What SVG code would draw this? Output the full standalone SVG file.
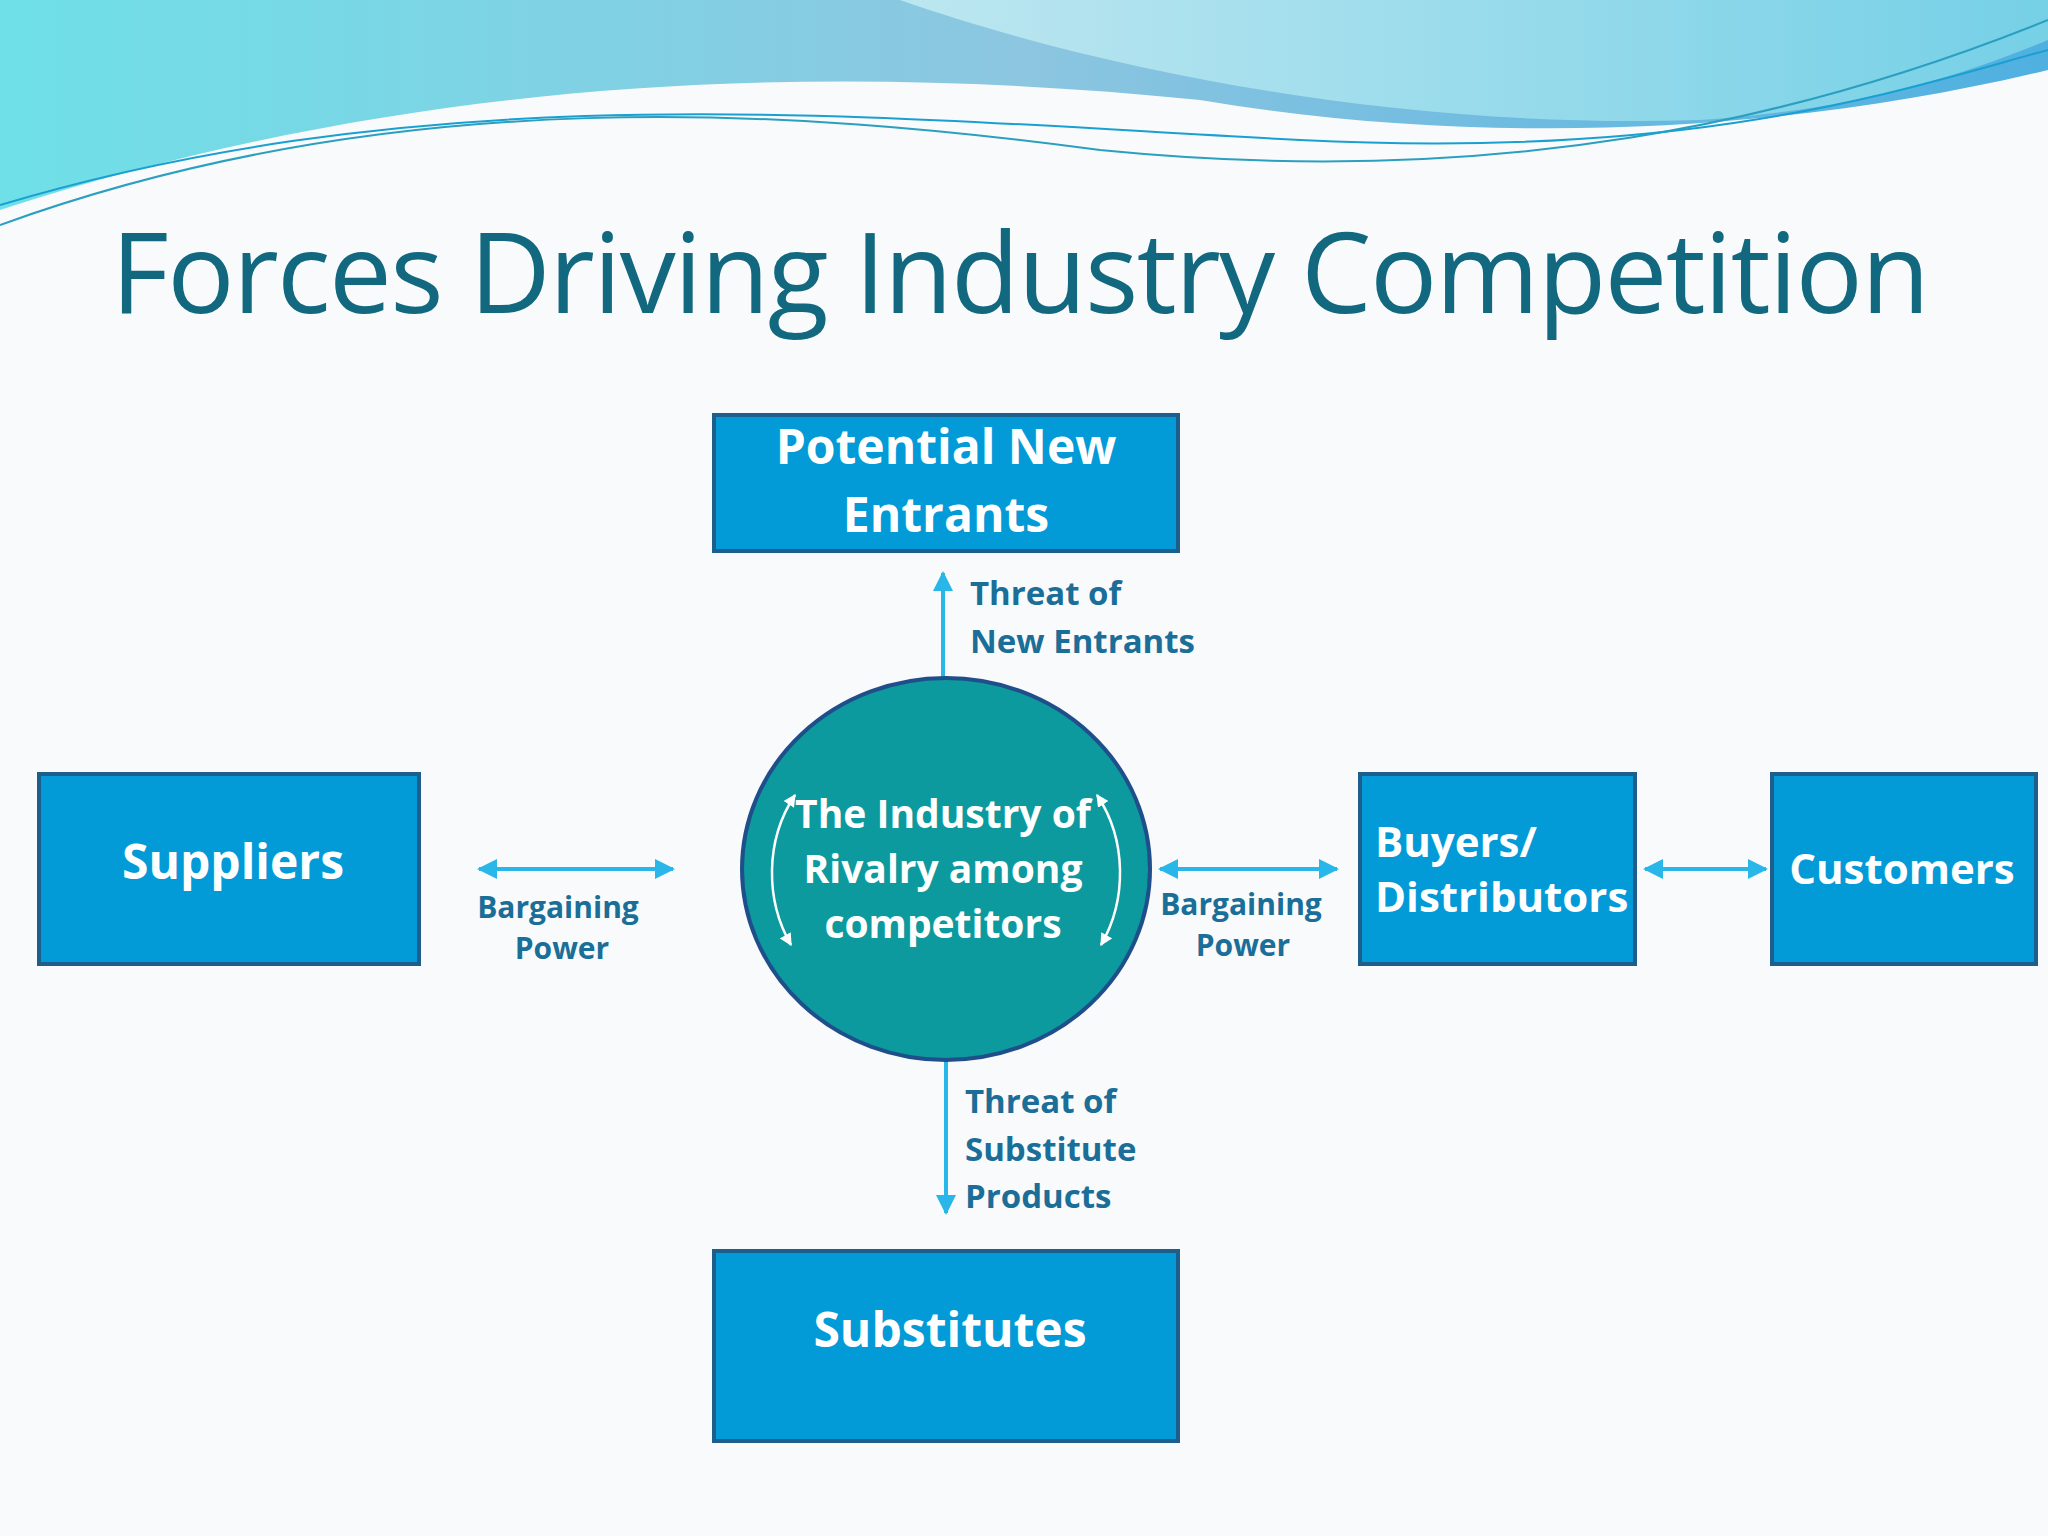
<svg xmlns="http://www.w3.org/2000/svg" width="2048" height="1536" viewBox="0 0 2048 1536">
<defs>
<linearGradient id="wv" x1="0" y1="0" x2="1" y2="0"><stop offset="0" stop-color="#6fe0e8"/><stop offset="0.5" stop-color="#8cc6e0"/><stop offset="1" stop-color="#4fb0e0"/></linearGradient>
<linearGradient id="wv2" x1="0" y1="0" x2="1" y2="0"><stop offset="0" stop-color="#c8eef4"/><stop offset="1" stop-color="#7fd8e8"/></linearGradient>
<marker id="ah" viewBox="0 0 10 10" refX="9" refY="5" markerWidth="5" markerHeight="5" orient="auto-start-reverse"><path d="M0,0 L10,5 L0,10 Z" fill="#29b6e8"/></marker>
<marker id="wh" viewBox="0 0 10 10" refX="9" refY="5" markerWidth="5" markerHeight="5" orient="auto-start-reverse"><path d="M0,0 L10,5 L0,10 Z" fill="#ffffff"/></marker>
<style>
.box{fill:#039ad8;stroke:#1d5e8c;stroke-width:4}
.bt{font-family:"Open Sans","Noto Sans",sans-serif;font-weight:bold;fill:#fff;font-size:48px;text-anchor:middle}
.lb{font-family:"Open Sans","Noto Sans",sans-serif;font-weight:bold;fill:#1a6e98;font-size:33px}
.ar{stroke:#29b6e8;stroke-width:4;fill:none;marker-start:url(#ah);marker-end:url(#ah)}
</style>
</defs>
<rect width="2048" height="1536" fill="#f8fafc"/>
<path d="M0,0 H2048 V70 C1800,130 1500,150 1200,100 C800,60 400,80 0,210 Z" fill="url(#wv)"/>
<path d="M900,0 C1100,70 1400,130 1700,120 C1850,110 1950,80 2048,40 V0 Z" fill="url(#wv2)" opacity="0.8"/>
<path d="M0,225 C400,80 800,110 1100,150 C1500,190 1800,120 2048,20" stroke="#2a9fc0" stroke-width="2" fill="none"/>
<path d="M0,205 C450,70 900,120 1300,140 C1700,160 1900,90 2048,50" stroke="#1aa0d0" stroke-width="2" fill="none"/>
<text x="111" y="313" font-family="Open Sans, Noto Sans, sans-serif" font-size="112" fill="#12687e" textLength="1819">Forces Driving Industry Competition</text>
<g id="connectors">
<line class="ar" x1="943" y1="573" x2="943" y2="755"/>
<line class="ar" x1="946" y1="1004" x2="946" y2="1213"/>
<line class="ar" x1="479" y1="869" x2="673" y2="869"/>
<line class="ar" x1="1160" y1="869" x2="1337" y2="869"/>
<line class="ar" x1="1645" y1="869" x2="1766" y2="869"/>
</g>
<g id="entrants"><rect class="box" x="714" y="415" width="464" height="136"/><text class="bt" x="946" y="464">Potential New</text><text class="bt" x="946" y="532">Entrants</text></g>
<g id="suppliers"><rect class="box" x="39" y="774" width="380" height="190"/><text class="bt" x="233" y="879">Suppliers</text></g>
<g id="buyers"><rect class="box" x="1360" y="774" width="275" height="190"/><text class="bt" x="1375" y="857" style="text-anchor:start;font-size:42px">Buyers/</text><text class="bt" x="1375" y="912" style="text-anchor:start;font-size:42px">Distributors</text></g>
<g id="customers"><rect class="box" x="1772" y="774" width="264" height="190"/><text class="bt" x="1902" y="884" style="font-size:42px">Customers</text></g>
<g id="substitutes"><rect class="box" x="714" y="1251" width="464" height="190"/><text class="bt" x="950" y="1347">Substitutes</text></g>
<g id="rivalry">
<ellipse cx="946" cy="869" rx="204" ry="191" fill="#0c9a9e" stroke="#1f4f8a" stroke-width="4"/>
<path d="M795,795 C765,840 765,900 791,945" stroke="#fff" stroke-width="2.5" fill="none" marker-start="url(#wh)" marker-end="url(#wh)"/>
<path d="M1097,795 C1127,840 1127,900 1101,945" stroke="#fff" stroke-width="2.5" fill="none" marker-start="url(#wh)" marker-end="url(#wh)"/>
<text class="bt" x="943" y="828" style="font-size:39px">The Industry of</text>
<text class="bt" x="943" y="883" style="font-size:39px">Rivalry among</text>
<text class="bt" x="943" y="938" style="font-size:39px">competitors</text>
</g>
<g id="labels">
<text class="lb" x="970" y="605">Threat of</text><text class="lb" x="970" y="653">New Entrants</text>
<text class="lb" x="558" y="918" text-anchor="middle" style="font-size:30px">Bargaining</text><text class="lb" x="562" y="959" text-anchor="middle" style="font-size:30px">Power</text>
<text class="lb" x="1241" y="915" text-anchor="middle" style="font-size:30px">Bargaining</text><text class="lb" x="1243" y="956" text-anchor="middle" style="font-size:30px">Power</text>
<text class="lb" x="965" y="1113">Threat of</text><text class="lb" x="965" y="1161">Substitute</text><text class="lb" x="965" y="1208">Products</text>
</g>
</svg>
